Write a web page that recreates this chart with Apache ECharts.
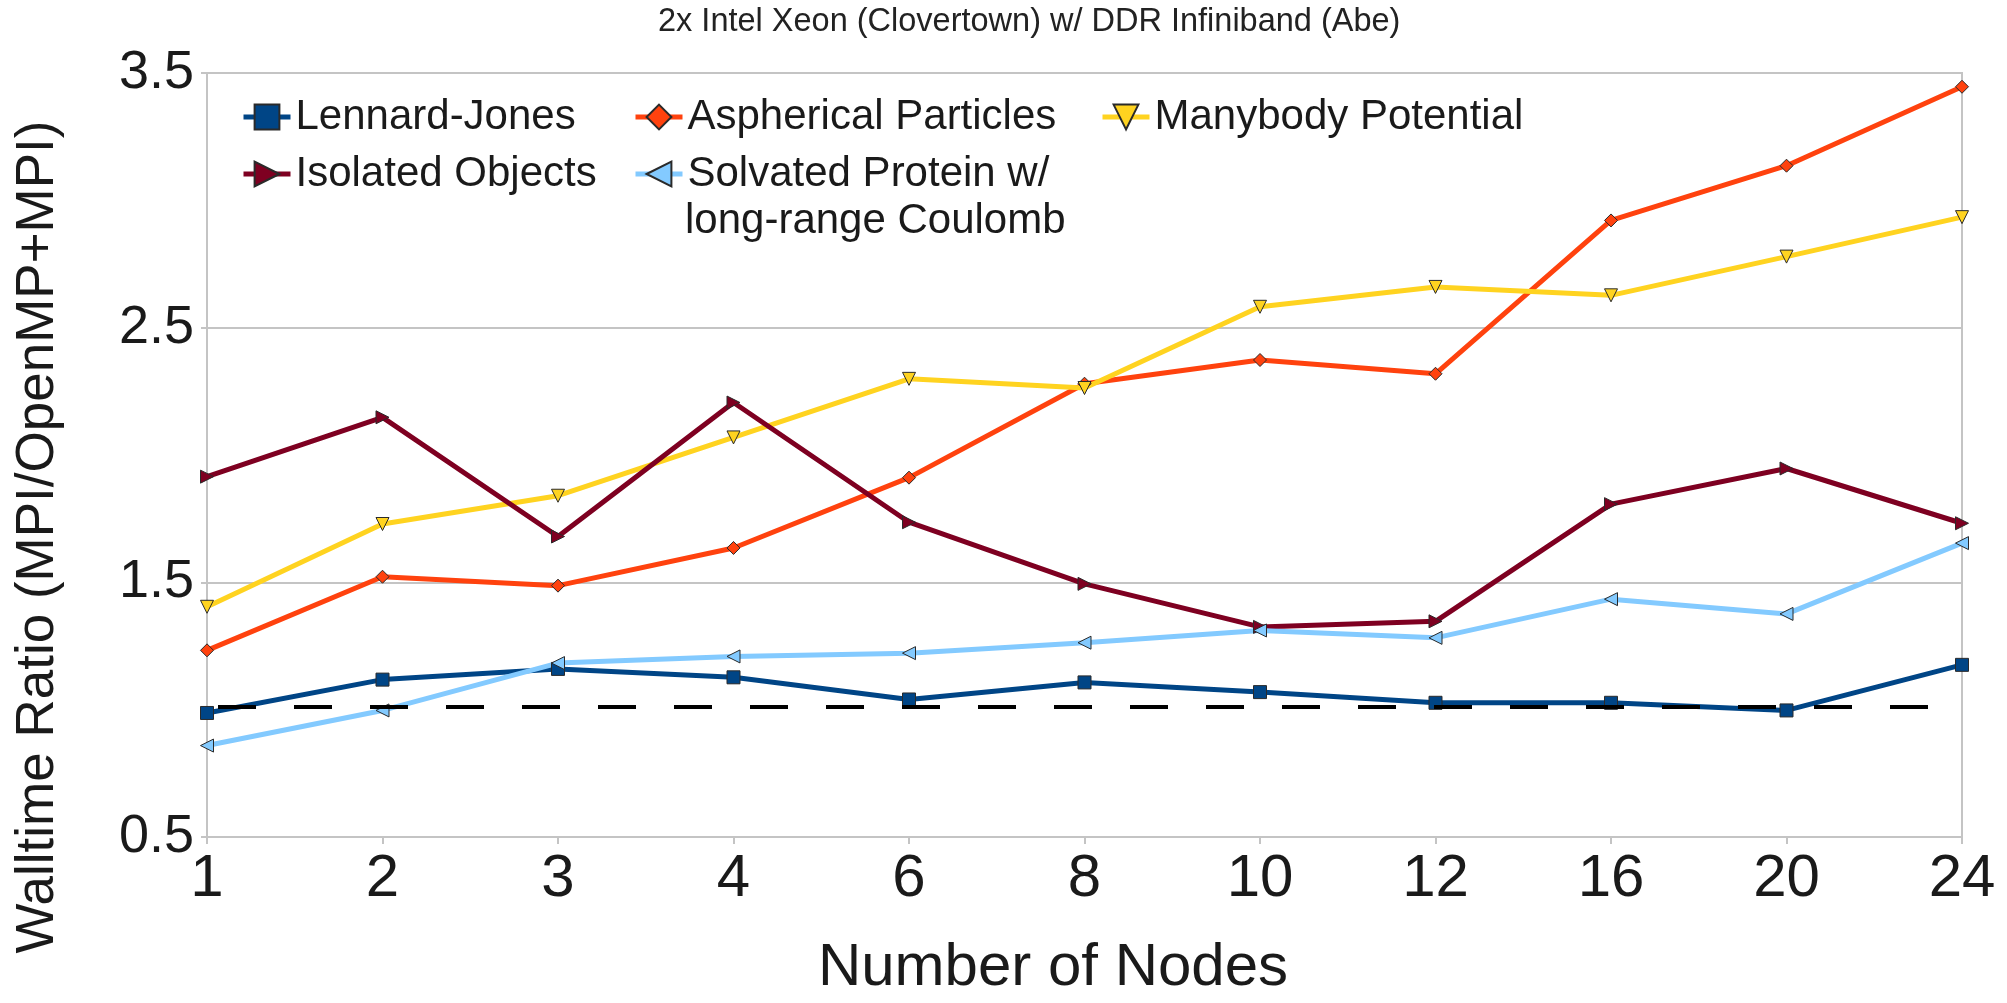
<!DOCTYPE html>
<html>
<head>
<meta charset="utf-8">
<script src="https://cdn.jsdelivr.net/npm/echarts@6/dist/echarts.min.js"></script>
<style>
html,body{margin:0;padding:0;background:#fff;}
#chart{width:2007px;height:1003px;}
</style>
</head>
<body>
<div id="chart"></div>
<script>
// ---- data ----
var categories = ['1','2','3','4','6','8','10','12','16','20','24'];
var lennardJones = [0.987, 1.118, 1.160, 1.127, 1.040, 1.107, 1.069, 1.027, 1.027, 0.997, 1.176];
var aspherical   = [1.233, 1.522, 1.487, 1.635, 1.911, 2.280, 2.373, 2.319, 2.921, 3.136, 3.446];
var manybody     = [1.404, 1.729, 1.840, 2.069, 2.299, 2.263, 2.582, 2.660, 2.627, 2.779, 2.934];
var isolated     = [1.915, 2.148, 1.680, 2.206, 1.736, 1.494, 1.325, 1.347, 1.807, 1.947, 1.732];
var solvated     = [0.859, 0.997, 1.183, 1.209, 1.222, 1.263, 1.311, 1.282, 1.434, 1.376, 1.654];
var referenceLine = 1.01;
var yTicks = { min: 0.5, max: 3.5, interval: 1 };

var FONT = '"Liberation Sans", Arial, sans-serif';
var TXT = '#1a1a1a';
var GRID = '#c4c4c4';

function mkSeries(name, data, color, symbol, rotate) {
  return {
    name: name, type: 'line', data: data,
    symbol: symbol, symbolSize: 13, symbolRotate: rotate,
    color: color,
    lineStyle: { color: color, width: 5 },
    itemStyle: { color: color, borderColor: '#2a2a2a', borderWidth: 1 },
    emphasis: { disabled: true },
    animation: false
  };
}

var names = {
  lj: 'Lennard-Jones',
  as: 'Aspherical Particles',
  mb: 'Manybody Potential',
  io: 'Isolated Objects',
  sp: 'Solvated Protein w/ long-range Coulomb'
};

var series = [
  mkSeries(names.lj, lennardJones, '#004586', 'rect', 0),
  mkSeries(names.as, aspherical, '#ff420e', 'diamond', 0),
  mkSeries(names.mb, manybody, '#ffd320', 'triangle', 180),
  mkSeries(names.io, isolated, '#7e0021', 'triangle', -90),
  mkSeries(names.sp, solvated, '#83caff', 'triangle', 90)
];
series[4].markLine = {
  silent: true, symbol: 'none', animation: false,
  label: { show: false },
  lineStyle: { color: '#000', width: 4, type: [38, 38], dashOffset: 65 },
  data: [{ yAxis: referenceLine }]
};

function mkLegend(name, left, top, formatter) {
  var l = {
    data: [name], left: left, top: top, orient: 'horizontal', padding: 0,
    itemWidth: 47, itemHeight: 31, selectedMode: false,
    lineStyle: { width: 5 },
    textStyle: { fontFamily: FONT, fontSize: 42, color: TXT, lineHeight: 46 }
  };
  if (formatter) l.formatter = formatter;
  return l;
}

var option = {
  backgroundColor: '#fff',
  animation: false,
  title: {
    text: '2x Intel Xeon (Clovertown) w/ DDR Infiniband (Abe)',
    left: 658, top: 6, padding: 0,
    textStyle: { fontFamily: FONT, fontSize: 32.5, fontWeight: 'normal', color: '#222' }
  },
  legend: [
    mkLegend(names.lj, 241, 94),
    mkLegend(names.as, 633, 94),
    mkLegend(names.mb, 1100, 94),
    mkLegend(names.io, 241, 151),
    mkLegend(names.sp, 633, 151, function () { return 'Solvated Protein w/'; })
  ],
  graphic: [{
    type: 'text', x: 685, y: 221,
    style: { text: 'long-range Coulomb', font: '42px ' + FONT, fill: TXT, verticalAlign: 'middle', align: 'left' }
  }],
  grid: { left: 207, right: 45, top: 73, bottom: 160, show: true, borderColor: GRID, borderWidth: 2 },
  xAxis: {
    type: 'category', data: categories, boundaryGap: false,
    name: 'Number of Nodes', nameLocation: 'middle', nameGap: 101,
    nameTextStyle: { fontFamily: FONT, fontSize: 60, color: TXT, padding: [0, 63, 0, 0] },
    axisLine: { lineStyle: { color: GRID, width: 2 } },
    axisTick: { show: true, length: 7, alignWithLabel: true, lineStyle: { color: GRID, width: 2 } },
    axisLabel: { fontFamily: FONT, fontSize: 60, color: TXT, margin: 12 },
    splitLine: { show: false }
  },
  yAxis: {
    type: 'value', min: yTicks.min, max: yTicks.max, interval: yTicks.interval,
    name: 'Walltime Ratio (MPI/OpenMP+MPI)', nameLocation: 'middle', nameRotate: 90, nameGap: 142,
    nameTextStyle: { fontFamily: FONT, fontSize: 53, color: TXT, padding: [0, 164, 0, 0] },
    axisLine: { show: true, lineStyle: { color: GRID, width: 2 } },
    axisTick: { show: true, length: 6, lineStyle: { color: GRID, width: 2 } },
    axisLabel: { fontFamily: FONT, fontSize: 54, color: TXT, margin: 13, formatter: function (v) { return v.toFixed(1); } },
    splitLine: { show: true, lineStyle: { color: GRID, width: 2 } }
  },
  series: series
};

var chart = echarts.init(document.getElementById('chart'), null, { renderer: 'canvas' });
chart.setOption(option);
</script>
</body>
</html>
